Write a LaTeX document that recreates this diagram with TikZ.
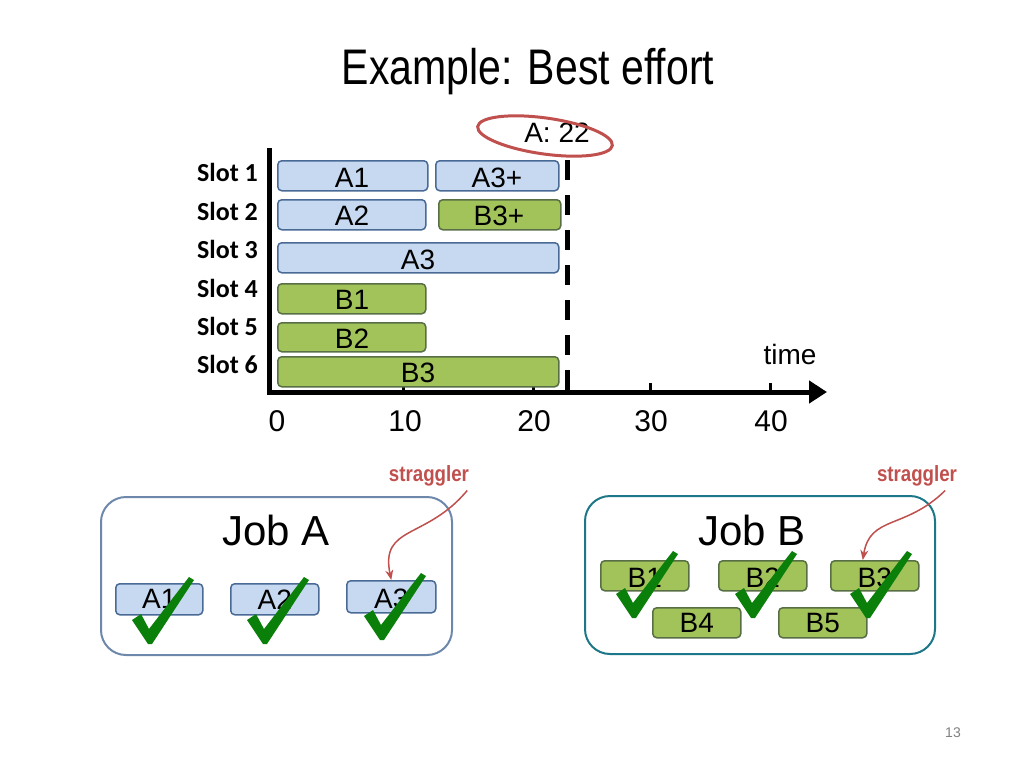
\documentclass[tikz,border=0pt]{standalone}
\usepackage{fontspec}
\setmainfont{Liberation Sans}
\newfontfamily\calib{Carlito}
\usetikzlibrary{arrows.meta}
\definecolor{bluef}{HTML}{C6D9F1}
\definecolor{blued}{HTML}{4A6A96}
\definecolor{greenf}{HTML}{A1C35A}
\definecolor{greend}{HTML}{5B7032}
\definecolor{strag}{HTML}{C0504D}
\definecolor{chk}{HTML}{0A7F0A}
\tikzset{
 bar/.style={draw=blued,line width=1.5pt,rounded corners=4pt,inner sep=0pt,anchor=north west},
 abar/.style={bar,fill=bluef},
 bbar/.style={bar,fill=greenf,draw=greend!80!blued},
 lab/.style={font=\fontsize{28}{28}\selectfont,inner sep=0pt},
 slot/.style={font=\calib\bfseries\fontsize{26}{26}\selectfont,anchor=east,inner sep=0pt},
 num/.style={font=\fontsize{30}{30}\selectfont,inner sep=0pt},
 jobbox/.style={draw,line width=2pt,rounded corners=25pt,fill=white},
 straglab/.style={text=strag,font=\bfseries\fontsize{22}{22}\selectfont,inner sep=0pt,xscale=0.85},
 stragarrow/.style={draw=strag,line width=1.5pt,-{Stealth[length=10pt,width=8pt]}},
}
\newcommand{\mybar}[6]{% name style x1 y1 x2 y2
 \node[#2,minimum width=#5-#3,minimum height=#6-#4] (#1) at (#3,#4) {};}
\newcommand{\mycheck}[2]{%
 \fill[chk] (#1,#2) ++(-16,-20) -- ++(9,-6) -- ++(8,15) -- ++(40,-52) -- ++(5,3) -- ++(-42,64) -- ++(-4,0) -- cycle;}
\begin{document}
\begin{tikzpicture}[x=1pt,y=-1pt]
\useasboundingbox (0,0) rectangle (1024,768);
\node[font=\fontsize{50}{50}\selectfont,xscale=0.82,inner sep=0pt] (title) at (528,72) {Example: Best effort};
% axes
\draw[line width=5pt] (269,148) -- (269,392);
\draw[line width=5pt,-{Triangle[length=18pt,width=22pt]}] (267,392) -- (827,392);
\foreach \x in {403,533,650,770} \draw[line width=3pt] (\x,392) -- (\x,383);
\draw[line width=5pt,dash pattern=on 20pt off 15pt] (567,160) -- (567,392);
% bars
\mybar{a1}{abar}{277}{160}{427}{190}
\mybar{a3p}{abar}{435}{160}{558}{190}
\mybar{a2}{abar}{277}{199}{425}{229}
\mybar{b3p}{bbar}{438}{199}{560}{229}
\mybar{a3}{abar}{277}{242}{558}{272}
\mybar{b1}{bbar}{277}{283}{425}{313}
\mybar{b2}{bbar}{277}{322}{425}{351}
\mybar{b3}{bbar}{277}{356}{558}{386}
\node[lab] at (352,178) {A1};
\node[lab] at (497,178) {A3+};
\node[lab] at (352,216) {A2};
\node[lab] at (499,216) {B3+};
\node[lab] at (418,260) {A3};
\node[lab] at (352,300) {B1};
\node[lab] at (352,339) {B2};
\node[lab] at (418,373) {B3};
\foreach \i/\y in {1/172,2/211,3/249,4/288,5/326,6/364}
 \node[slot] (s\i) at (258,\y) {Slot \i};
\foreach \v/\x in {0/277,10/405,20/534,30/651,40/771}
 \node[num] (n\v) at (\x,421) {\v};
\node[font=\fontsize{28}{28}\selectfont,inner sep=0pt] (time) at (790,354) {time};
\node[font=\fontsize{28}{28}\selectfont,inner sep=0pt] (a22) at (557,133) {A: 22};
\draw[strag,line width=3pt,rotate around={-8:(545,136)}] (545,136) ellipse [x radius=68, y radius=18];
% jobs
\draw[jobbox,draw=blued!80] (101,497) rectangle (452,655);
\draw[jobbox,draw=teal!60!blued] (585,496) rectangle (935,654);
\node[font=\fontsize{42}{42}\selectfont,inner sep=0pt] (jobA) at (276,530) {Job A};
\node[font=\fontsize{42}{42}\selectfont,inner sep=0pt] (jobB) at (752,530) {Job B};
\mybar{ta1}{abar}{115}{583}{202}{614}
\mybar{ta2}{abar}{230}{583}{318}{614}
\mybar{ta3}{abar}{346}{580}{435}{612}
\mybar{tb1}{bbar}{600}{560}{688}{590}
\mybar{tb2}{bbar}{718}{560}{806}{590}
\mybar{tb3}{bbar}{830}{560}{918}{590}
\mybar{tb4}{bbar}{652}{607}{740}{637}
\mybar{tb5}{bbar}{778}{607}{866}{637}
\foreach \n in {ta1,ta2,ta3,tb1,tb2,tb3,tb4,tb5} {}
\node[lab] at (ta1) {A1};
\node[lab] at (ta2) {A2};
\node[lab] at ([yshift=-2pt]ta3.center) {A3};
\node[lab] at ([yshift=-2pt]tb1.center) {B1};
\node[lab] at ([yshift=-2pt]tb2.center) {B2};
\node[lab] at ([yshift=-2pt]tb3.center) {B3};
\node[lab] at (tb4) {B4};
\node[lab] at (tb5) {B5};
\mycheck{148}{640}
\mycheck{263}{640}
\mycheck{380}{636}
\mycheck{632}{614}
\mycheck{751}{614}
\mycheck{866}{614}
% stragglers
\node[straglab] (stA) at (429,476) {straggler};
\node[straglab] (stB) at (917,476) {straggler};
\draw[stragarrow] (stA.south east) ++(-2,4) .. controls (426,540) and (380,525) .. (ta3.north);
\draw[stragarrow] (stB.south east) ++(-12,4) .. controls (905,530) and (870,515) .. ([xshift=-12pt]tb3.north);
\node[text=gray,font=\fontsize{14}{14}\selectfont] (pg) at (953,733) {13};
\end{tikzpicture}
\end{document}
